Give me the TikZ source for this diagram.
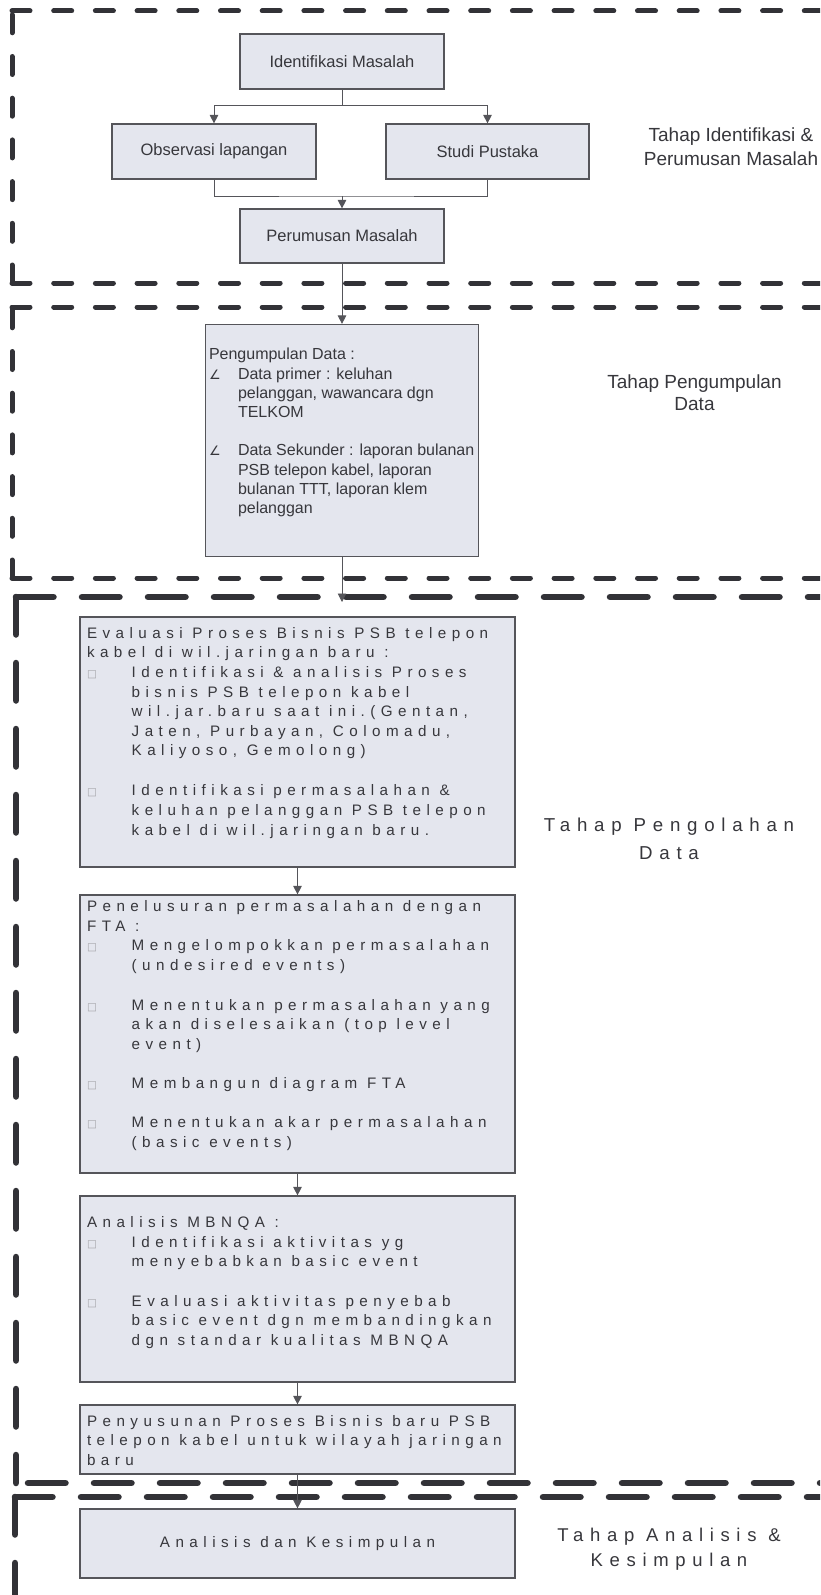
\documentclass[tikz,border=0pt]{standalone}
\usepackage{fontspec}
\setmainfont{Liberation Sans}
\newfontfamily\renggang[LetterSpace=36]{Liberation Sans}
\newfontfamily\simbol{DejaVu Sans}
\usetikzlibrary{arrows.meta, positioning}

\definecolor{isibox}{RGB}{228,230,238}
\definecolor{garisbox}{RGB}{85,85,90}
\definecolor{tulisan}{RGB}{55,55,60}
\definecolor{putus}{RGB}{50,50,55}
\definecolor{tanda}{RGB}{165,165,170}

\newcommand{\kotak}{\makebox[44.7pt][l]{\textcolor{tanda}{\simbol\fontsize{10.5}{10}\selectfont □}}}
\newcommand{\masuk}{\hspace*{44.7pt}}
\newcommand{\sudut}{\makebox[29pt][l]{\simbol\fontsize{13}{13}\selectfont ∠}}
\newcommand{\masuka}{\hspace*{29pt}}

\begin{document}
\begin{tikzpicture}[x=1pt, y=-1pt, font=\fontsize{16}{19.2}\selectfont, text=tulisan,
    proses/.style={draw=garisbox, fill=isibox, line width=1.2pt, inner xsep=7pt, inner ysep=0pt},
    garis/.style={draw=garisbox, line width=0.9pt},
    panah/.style={garis, -{Triangle[length=8.5pt, width=8.5pt]}},
    batas/.style={draw=putus, line width=5pt, line cap=round, dash pattern=on 18pt off 23.7pt},
    batastebal/.style={batas, line width=6.5pt, dash pattern=on 37.5pt off 28.5pt},
    isian/.style={font=\renggang\fontsize{15.2}{19.6}\selectfont}]
    \useasboundingbox (0,0) rectangle (820,1595);
    \clip (0,0) rectangle (820,1595);

    % Tahap identifikasi
    \draw[batas] (12,283) -- (12,11);
    \draw[batas] (12,11) -- (840,11);
    \draw[batas] (12,283) -- (840,283);
    \begin{scope}[font=\fontsize{16.5}{19}\selectfont]
        \node[proses, minimum width=204pt, minimum height=55pt] (idm) at (342,61.5) {Identifikasi Masalah};
        \node[proses, minimum width=204pt, minimum height=55pt] (obs) at (214,151.5) {Observasi lapangan};
        \node[proses, minimum width=203pt, minimum height=55pt] (stu) at (487.5,151.5) {Studi Pustaka};
        \node[proses, minimum width=204pt, minimum height=54pt] (rum) at (342,236) {Perumusan Masalah};
    \end{scope}
    \draw[panah] (idm.south) -- ++(0,16) -| (obs.north);
    \draw[panah] (idm.south) -- ++(0,16) -| (stu.north);
    \coordinate (gabung) at (342,196);
    \draw[garis] (obs.south) |- (gabung) -| (stu.south);
    \draw[panah] (gabung) -- (rum.north);
    \node[align=center, font=\fontsize{19}{24}\selectfont] (tahap1) at (731,147) {Tahap Identifikasi \&\\Perumusan Masalah};

    % Tahap pengumpulan
    \draw[batas] (12,578) -- (12,307);
    \draw[batas] (12,307) -- (840,307);
    \draw[batas] (12,578) -- (840,578);
    \node[proses, inner xsep=3.5pt] (kumpul) at (342,440.5) {\parbox[c][232pt][t]{266pt}{\vspace*{22pt}\noindent
        \begin{tabular}{@{}l@{}}
        Pengumpulan Data :\\
        \sudut Data primer : keluhan\\
        \masuka pelanggan, wawancara dgn\\
        \masuka TELKOM\\[19.2pt]
        \sudut Data Sekunder : laporan bulanan\\
        \masuka PSB telepon kabel, laporan\\
        \masuka bulanan TTT, laporan klem\\
        \masuka pelanggan
        \end{tabular}}};
    \draw[panah] (rum.south) -- (kumpul.north);
    \node[align=center, font=\fontsize{19}{22}\selectfont] (tahap2) at (694.5,393) {Tahap Pengumpulan\\Data};

    % Tahap pengolahan
    \draw[batastebal] (16,597) -- (16,1483);
    \draw[batastebal] (16,597) -- (840,597);
    \draw[batastebal] (28,1483) -- (840,1483);
    \coordinate (ujung) at (342,602);
    \draw[panah] (kumpul.south) -- (ujung);
    \node[proses, isian] (eval) at (297.5,742) {\parbox[c][250pt][t]{421pt}{\vspace*{7.5pt}\noindent
        \begin{tabular}{@{}l@{}}
        Evaluasi Proses Bisnis PSB telepon\\
        kabel di wil.jaringan baru :\\
        \kotak Identifikasi \& analisis Proses\\
        \masuk bisnis PSB telepon kabel\\
        \masuk wil.jar.baru saat ini.(Gentan,\\
        \masuk Jaten, Purbayan, Colomadu,\\
        \masuk Kaliyoso, Gemolong)\\[20.4pt]
        \kotak Identifikasi permasalahan \&\\
        \masuk keluhan pelanggan PSB telepon\\
        \masuk kabel di wil.jaringan baru.
        \end{tabular}}};
    \node[proses, isian] (fta) at (297.5,1034) {\parbox[c][278pt][t]{421pt}{\vspace*{3pt}\noindent
        \begin{tabular}{@{}l@{}}
        Penelusuran permasalahan dengan\\
        FTA :\\
        \kotak Mengelompokkan permasalahan\\
        \masuk (undesired events)\\[20pt]
        \kotak Menentukan permasalahan yang\\
        \masuk akan diselesaikan (top level\\
        \masuk event)\\[19.6pt]
        \kotak Membangun diagram FTA\\[19.6pt]
        \kotak Menentukan akar permasalahan\\
        \masuk (basic events)
        \end{tabular}}};
    \node[proses, isian] (mbnqa) at (297.5,1289) {\parbox[c][186pt][t]{421pt}{\vspace*{18pt}\noindent
        \begin{tabular}{@{}l@{}}
        Analisis MBNQA :\\
        \kotak Identifikasi aktivitas yg\\
        \masuk menyebabkan basic event\\[19.6pt]
        \kotak Evaluasi aktivitas penyebab\\
        \masuk basic event dgn membandingkan\\
        \masuk dgn standar kualitas MBNQA
        \end{tabular}}};
    \node[proses, isian] (susun) at (297.5,1439.5) {\parbox[c][69pt][t]{421pt}{\vspace*{7.5pt}\noindent
        \begin{tabular}{@{}l@{}}
        Penyusunan Proses Bisnis baru PSB\\
        telepon kabel untuk wilayah jaringan\\
        baru
        \end{tabular}}};
    \node[align=center, font=\renggang\fontsize{18.7}{27.5}\selectfont] (tahap3) at (669,839) {Tahap Pengolahan\\Data};

    % Tahap analisis
    \draw[batastebal] (15,1497) -- (840,1497);
    \draw[batastebal] (15,1497) -- (15,1620);
    \node[proses, isian, minimum width=435pt, minimum height=69pt] (simpul) at (297.5,1543.5) {Analisis dan Kesimpulan};
    \node[align=center, font=\renggang\fontsize{18.5}{25}\selectfont] (tahap4) at (669,1549) {Tahap Analisis \&\\Kesimpulan};

    \foreach \a/\b in {eval/fta, fta/mbnqa, mbnqa/susun, susun/simpul} {
        \draw[panah] (\a.south) -- (\b.north);
    }
\end{tikzpicture}
\end{document}
